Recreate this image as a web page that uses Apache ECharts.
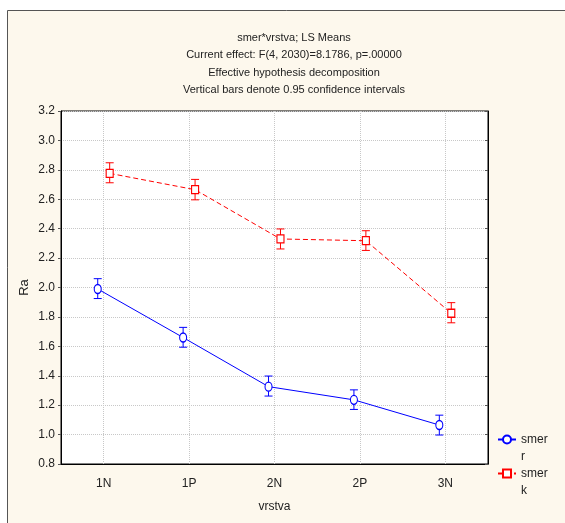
<!DOCTYPE html>
<html><head><meta charset="utf-8">
<script src="https://cdn.jsdelivr.net/npm/echarts@6/dist/echarts.min.js"></script>
<style>html,body{margin:0;padding:0;background:#fff}#c{width:565px;height:523px}</style>
</head><body><div id="c"></div>
<script>
const categories = ['1N', '1P', '2N', '2P', '3N'];
const seriesNames = ['smer r', 'smer k'];
const rMeans = [1.99, 1.66, 1.326, 1.236, 1.065];
const rLow   = [1.925, 1.594, 1.262, 1.171, 0.997];
const rHigh  = [2.06, 1.729, 1.398, 1.304, 1.132];
const kMeans = [2.776, 2.665, 2.33, 2.318, 1.825];
const kLow   = [2.712, 2.596, 2.262, 2.252, 1.760];
const kHigh  = [2.848, 2.735, 2.398, 2.386, 1.897];
const yTicks = { min: 0.8, max: 3.2, interval: 0.2 };

const FONT = '"Liberation Sans", Arial, sans-serif';
const DODGE = 0.07;
const BLUE = '#0000ff', RED = '#ff0000';

function pts(means, off) { return means.map((v, i) => [i + off, v]); }
function errs(lo, hi, off) { return lo.map((v, i) => [i + off, v, hi[i]]); }

function errRender(color) {
  return function (params, api) {
    const x = api.value(0);
    const a = api.coord([x, api.value(1)]);
    const b = api.coord([x, api.value(2)]);
    const w = 4;
    const st = { stroke: color, lineWidth: 1 };
    return { type: 'group', children: [
      { type: 'line', shape: { x1: a[0], y1: a[1], x2: b[0], y2: b[1] }, style: st },
      { type: 'line', shape: { x1: a[0] - w, y1: a[1], x2: a[0] + w, y2: a[1] }, style: st },
      { type: 'line', shape: { x1: b[0] - w, y1: b[1], x2: b[0] + w, y2: b[1] }, style: st }
    ]};
  };
}

const chart = echarts.init(document.getElementById('c'), null, { renderer: 'canvas' });
chart.setOption({
  animation: false,
  backgroundColor: '#ffffff',
  textStyle: { fontFamily: FONT },
  graphic: [{
    type: 'rect', z: -10, silent: true,
    shape: { x: 7.5, y: 10.5, width: 600, height: 600 },
    style: { fill: '#fdf8ed', stroke: '#555', lineWidth: 1 }
  }],
  title: {
    text: 'smer*vrstva; LS Means\nCurrent effect: F(4, 2030)=8.1786, p=.00000\nEffective hypothesis decomposition\nVertical bars denote 0.95 confidence intervals',
    left: 289, top: 24, textAlign: 'center',
    textStyle: { fontSize: 11, fontWeight: 'normal', color: '#222', lineHeight: 17.5, fontFamily: FONT }
  },
  grid: { left: 61, top: 111, right: 77, bottom: 59, show: true, backgroundColor: '#fff', borderColor: '#000', borderWidth: 1 },
  legend: {
    orient: 'vertical', left: 492, top: 409, itemWidth: 18, itemHeight: 10, itemGap: -17,
    data: seriesNames,
    formatter: n => '\n' + n.replace(' ', '\n'),
    textStyle: { fontSize: 12, color: '#222', lineHeight: 17, fontFamily: FONT }
  },
  xAxis: [{
    type: 'category', data: categories, boundaryGap: true,
    name: 'vrstva', nameLocation: 'middle', nameGap: 37, nameMoveOverlap: false,
    nameTextStyle: { fontSize: 12, color: '#222' },
    axisLine: { onZero: false, lineStyle: { color: '#000' } },
    axisTick: { alignWithLabel: true, inside: true, length: 3, lineStyle: { color: '#555' } },
    axisLabel: { fontSize: 12, color: '#222', margin: 14 },
    splitLine: { show: true, alignWithLabel: true, lineStyle: { color: '#c8c8c8', type: 'dotted' } }
  }, {
    type: 'value', min: -0.5, max: 4.5, show: false, position: 'bottom'
  }],
  yAxis: [{
    type: 'value', min: yTicks.min, max: yTicks.max, interval: yTicks.interval,
    name: 'Ra', nameLocation: 'middle', nameGap: 30, nameMoveOverlap: false,
    nameTextStyle: { fontSize: 13, color: '#222' },
    axisLine: { show: true, onZero: false, lineStyle: { color: '#000' } },
    axisTick: { show: true, length: 3, lineStyle: { color: '#555' } },
    axisLabel: { fontSize: 12, color: '#222', margin: 6, formatter: v => v.toFixed(1) },
    splitLine: { show: true, lineStyle: { color: '#c8c8c8', type: 'dotted' } }
  }, {
    type: 'value', min: yTicks.min, max: yTicks.max, interval: yTicks.interval, position: 'right',
    axisLine: { show: true, onZero: false, lineStyle: { color: '#000' } },
    axisTick: { show: true, inside: true, length: 3, lineStyle: { color: '#555' } },
    axisLabel: { show: false }, splitLine: { show: false }
  }],
  series: [{
    type: 'custom', xAxisIndex: 1, yAxisIndex: 0, z: 2, silent: true,
    renderItem: errRender(BLUE), data: errs(rLow, rHigh, -DODGE)
  }, {
    type: 'custom', xAxisIndex: 1, yAxisIndex: 0, z: 2, silent: true,
    renderItem: errRender(RED), data: errs(kLow, kHigh, DODGE)
  }, {
    name: seriesNames[0], type: 'line', xAxisIndex: 1, yAxisIndex: 0, z: 3,
    data: pts(rMeans, -DODGE),
    symbol: 'circle', symbolSize: [7, 9], showAllSymbol: true,
    lineStyle: { color: BLUE, width: 1 },
    itemStyle: { color: '#fff', borderColor: BLUE, borderWidth: 1.2 }
  }, {
    name: seriesNames[1], type: 'line', xAxisIndex: 1, yAxisIndex: 0, z: 3,
    data: pts(kMeans, DODGE),
    symbol: 'rect', symbolSize: [7, 8], showAllSymbol: true,
    lineStyle: { color: RED, width: 1, type: [5, 3] },
    itemStyle: { color: '#fff', borderColor: RED, borderWidth: 1.2 }
  }]
});
</script></body></html>
